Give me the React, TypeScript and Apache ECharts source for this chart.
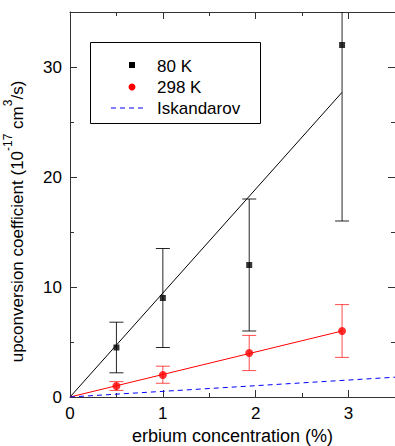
import React, { useEffect, useRef } from "react";
import * as echarts from "echarts";

const xConc80 = [0.5, 1.0, 1.93, 2.93];
const val80 = [4.5, 9.0, 12.0, 32.0];
const low80 = [2.2, 4.5, 6.0, 16.0];
const high80 = [6.8, 13.5, 18.0, 48.0];

const xConc298 = [0.5, 1.0, 1.93, 2.93];
const val298 = [1.0, 2.0, 4.0, 6.0];
const low298 = [0.6, 1.25, 2.4, 3.6];
const high298 = [1.4, 2.8, 5.6, 8.4];

const fit80 = [[0, 0], [2.93, 27.7]];
const fit298 = [[0, 0], [2.93, 6.0]];
const iskandarov = [[0, 0], [3.5, 1.8]];

const legendNames = ["80 K", "298 K", "Iskandarov"];

const FONT = "Liberation Sans, Arial, sans-serif";

function errorBars(color: string, opacity: number) {
  return (params: any, api: any) => {
    const cs = params.coordSys;
    const x = api.value(0);
    const lo = api.value(1);
    const hi = api.value(2);
    const pLo = api.coord([x, lo]);
    const pHi = api.coord([x, hi]);
    const top = cs.y;
    const bottom = cs.y + cs.height;
    const yLo = Math.min(Math.max(pLo[1], top), bottom);
    const yHi = Math.min(Math.max(pHi[1], top), bottom);
    const hw = 7;
    const style = { stroke: color, lineWidth: 1, opacity };
    const children: any[] = [
      { type: "line", shape: { x1: pLo[0], y1: yLo, x2: pHi[0], y2: yHi }, style },
    ];
    if (pLo[1] >= top && pLo[1] <= bottom)
      children.push({ type: "line", shape: { x1: pLo[0] - hw, y1: pLo[1], x2: pLo[0] + hw, y2: pLo[1] }, style });
    if (pHi[1] >= top && pHi[1] <= bottom)
      children.push({ type: "line", shape: { x1: pHi[0] - hw, y1: pHi[1], x2: pHi[0] + hw, y2: pHi[1] }, style });
    return { type: "group", children };
  };
}

export default function App() {
  const ref = useRef<HTMLDivElement>(null);
  useEffect(() => {
    if (!ref.current) return;
    const chart = echarts.init(ref.current, null, { renderer: "svg" });
    const axisColor = "#333";
    const tickCommon = {
      axisLine: { show: true, onZero: false, lineStyle: { color: axisColor, width: 1 } },
      axisTick: { show: true, inside: true, length: 7, lineStyle: { color: axisColor } },
      minorTick: { show: true, splitNumber: 2, length: 4, lineStyle: { color: axisColor } },
      splitLine: { show: false },
      minorSplitLine: { show: false },
    };
    const option: any = {
      animation: false,
      backgroundColor: "#fff",
      textStyle: { fontFamily: FONT },
      grid: { left: 70, right: 0, top: 12, bottom: 49, containLabel: false, outerBoundsMode: "none" },
      xAxis: [
        {
          type: "value",
          min: 0,
          max: 3.5,
          interval: 1,
          position: "bottom",
          ...tickCommon,
          axisLabel: { color: "#000", fontSize: 17, fontFamily: FONT, margin: 8, showMaxLabel: false },
          name: "erbium concentration (%)",
          nameLocation: "middle",
          nameGap: 30,
          nameTextStyle: { color: "#000", fontSize: 18, fontFamily: FONT, lineHeight: 16 },
        },
        {
          type: "value",
          min: 0,
          max: 3.5,
          interval: 1,
          position: "top",
          ...tickCommon,
          axisLabel: { show: false },
        },
      ],
      yAxis: [
        {
          type: "value",
          min: 0,
          max: 35,
          interval: 10,
          position: "left",
          ...tickCommon,
          axisLabel: { color: "#000", fontSize: 17, fontFamily: FONT, margin: 8, showMaxLabel: false },
          name: "{n|upconversion coefficient (10}{sup|-17}{n| cm}{sup|3}{n|/s)}",
          nameLocation: "middle",
          nameRotate: 90,
          nameGap: 39,
          nameTextStyle: {
            color: "#000",
            fontSize: 17,
            fontFamily: FONT,
            padding: [0, 34, 0, 0],
            rich: {
              n: { fontSize: 17, fontFamily: FONT, color: "#000", lineHeight: 20 },
              sup: { fontSize: 12, fontFamily: FONT, color: "#000", lineHeight: 12, padding: [0, 0, 18, 0] },
            },
          },
        },
        {
          type: "value",
          min: 0,
          max: 35,
          interval: 10,
          position: "right",
          ...tickCommon,
          axisLabel: { show: false },
        },
      ],
      series: [
        {
          name: "fit80",
          type: "line",
          data: fit80,
          symbol: "none",
          lineStyle: { color: "#000", width: 1 },
          silent: true,
        },
        {
          name: "fit298",
          type: "line",
          data: fit298,
          symbol: "none",
          lineStyle: { color: "#ff0000", width: 1 },
          silent: true,
        },
        {
          name: legendNames[2],
          type: "line",
          data: iskandarov,
          symbol: "none",
          lineStyle: { color: "#0000ff", width: 1, type: [5, 4] },
          silent: true,
        },
        {
          name: "err80",
          type: "custom",
          data: xConc80.map((x, i) => [x, low80[i], high80[i]]),
          renderItem: errorBars("#000", 0.85),
          silent: true,
          z: 3,
        },
        {
          name: "err298",
          type: "custom",
          data: xConc298.map((x, i) => [x, low298[i], high298[i]]),
          renderItem: errorBars("#ff0000", 0.7),
          silent: true,
          z: 3,
        },
        {
          name: legendNames[0],
          type: "scatter",
          data: xConc80.map((x, i) => [x, val80[i]]),
          symbol: "rect",
          symbolSize: 6,
          itemStyle: { color: "#000" },
          z: 4,
        },
        {
          name: legendNames[1],
          type: "scatter",
          data: xConc298.map((x, i) => [x, val298[i]]),
          symbol: "circle",
          symbolSize: 8,
          itemStyle: { color: "#ff0000" },
          z: 4,
        },
      ],
      graphic: [
        {
          type: "group",
          left: 90,
          top: 42,
          children: [
            { type: "rect", shape: { x: 0.5, y: 0.5, width: 170, height: 81 }, style: { fill: "#fff", stroke: "#000", lineWidth: 1 } },
            { type: "rect", shape: { x: 39, y: 20, width: 6, height: 6 }, style: { fill: "#000" } },
            { type: "circle", shape: { cx: 42, cy: 45, r: 3.5 }, style: { fill: "#ff0000" } },
            { type: "line", shape: { x1: 21, y1: 66, x2: 54, y2: 66 }, style: { stroke: "#0000ff", lineWidth: 1, lineDash: [5, 4] } },
            { type: "text", x: 67, y: 24, style: { text: legendNames[0], fontSize: 17, fontFamily: FONT, fill: "#000", verticalAlign: "middle" } },
            { type: "text", x: 67, y: 45.5, style: { text: legendNames[1], fontSize: 17, fontFamily: FONT, fill: "#000", verticalAlign: "middle" } },
            { type: "text", x: 67, y: 66.5, style: { text: legendNames[2], fontSize: 17, fontFamily: FONT, fill: "#000", verticalAlign: "middle" } },
          ],
        },
      ],
    };
    chart.setOption(option);
    return () => chart.dispose();
  }, []);
  return (
    <div
      ref={ref}
      style={{ position: "fixed", left: 0, top: 0, width: 395, height: 446 }}
    />
  );
}
